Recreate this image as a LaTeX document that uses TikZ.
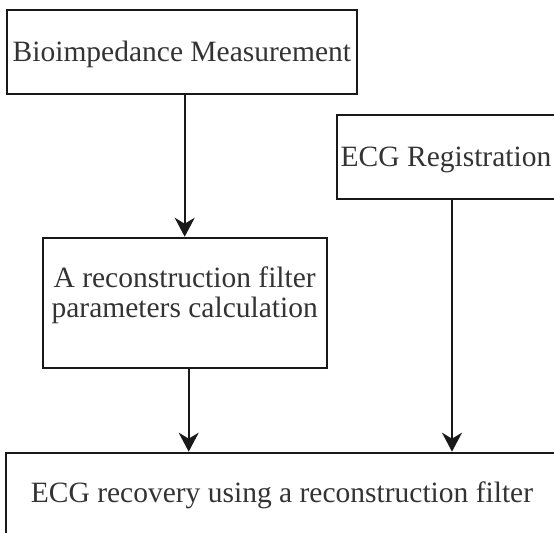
\documentclass[tikz,border=0pt]{standalone}
\usepackage{fontspec}
\setmainfont{Liberation Serif}
\usetikzlibrary{arrows.meta}
\begin{document}
\begin{tikzpicture}[x=0.5pt,y=-0.5pt]
% Styles
\tikzstyle{cadre}=[draw=black!90,line width=1pt]
\tikzstyle{boite}=[cadre,rectangle,inner sep=0pt,font=\fontsize{14.75}{15}\selectfont,text=black!80,align=center]
\tikzstyle{ligne}=[text height=10pt,text depth=0pt]
\tikzstyle{fleche}=[-{Stealth[length=9.5pt,width=10pt,inset=3pt]},line width=1pt,draw=black!90]
% Dimensions
\def\HtB{42pt}
% Cadre de l'image
\useasboundingbox (0,0) rectangle (554,533);
\clip (0,0) rectangle (554,533);
% Boites
\node[boite,ligne,minimum width=175.15pt,minimum height=\HtB] (mesure) at (181.85,52) {Bioimpedance Measurement};
\node[boite,ligne,minimum width=109pt,minimum height=\HtB] (ecg) at (446,157) {ECG Registration};
\node[boite,text depth=11.2pt,minimum width=142pt,minimum height=65.15pt] (calcul) at (184.7,302.9) {A reconstruction filter\\parameters calculation};
\node[boite,text height=5pt,text depth=5pt,minimum width=275.6pt,minimum height=50pt] (recup) at (282,502.7) {ECG recovery using a reconstruction filter};
% Fleches
\draw[fleche] (calcul.north |- mesure.south) -- (calcul.north);
\draw[fleche] ([xshift=2pt]calcul.south) -- ([xshift=2pt]calcul.south |- recup.north);
\draw[fleche] ([xshift=3pt]ecg.south) -- ([xshift=3pt]ecg.south |- recup.north);
\end{tikzpicture}
\end{document}
